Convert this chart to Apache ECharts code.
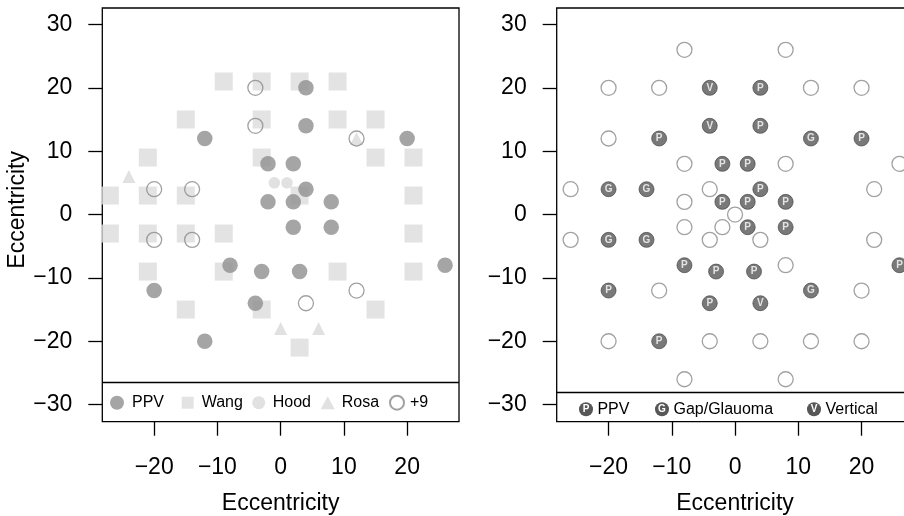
<!DOCTYPE html>
<html>
<head>
<meta charset="utf-8">
<script src="https://cdn.jsdelivr.net/npm/echarts@6/dist/echarts.min.js"></script>
<style>
  html, body { margin: 0; padding: 0; background: #fff; }
  #chart { width: 904px; height: 516px; }
</style>
</head>
<body>
<div id="chart"></div>
<script>
// left panel groups, [x, y] in degrees
var ppvPoints = [[4, 20], [4, 14], [-12, 12], [20, 12], [-2, 8], [2, 8], [4, 4], [-2, 2], [2, 2], [8, 2],
  [2, -2], [8, -2], [26, -8], [-8, -8], [-3, -9], [3, -9], [-20, -12], [-4, -14], [-12, -20]];
var wangPoints = [[-9, 21], [-3, 21], [3, 21], [9, 21], [-15, 15], [-3, 15], [9, 15], [15, 15],
  [-21, 9], [-3, 9], [15, 9], [21, 9], [-27, 3], [-21, 3], [-15, 3], [3, 3], [21, 3],
  [-27, -3], [-21, -3], [-15, -3], [-9, -3], [21, -3], [-21, -9], [-9, -9], [9, -9], [21, -9],
  [-15, -15], [-3, -15], [15, -15], [3, -21]];
var hoodPoints = [[-1, 5], [1, 5]];
var rosaPoints = [[-24, 6], [12, 12], [0, -18], [6, -18]];
var plus9Points = [[-4, 20], [-4, 14], [12, 12], [-20, 4], [-14, 4], [-20, -4], [-14, -4], [4, -14], [12, -12]];

// right panel groups (PPV points are the same as on the left)
var openPoints = [[-8, 26], [8, 26], [-20, 20], [-12, 20], [12, 20], [20, 20], [-20, 12], [-8, 8], [8, 8], [26, 8],
  [-26, 4], [-4, 4], [22, 4], [-8, 2], [0, 0], [-2, -2], [-8, -2], [-26, -4], [-4, -4], [4, -4], [22, -4],
  [8, -8], [-12, -12], [20, -12], [-20, -20], [-4, -20], [4, -20], [12, -20], [20, -20], [-8, -26], [8, -26]];
var gapPoints = [[12, 12], [-20, 4], [-14, 4], [-20, -4], [-14, -4], [12, -12]];
var verticalPoints = [[-4, 20], [-4, 14], [4, -14]];

var xTicks = [-20, -10, 0, 10, 20];
var yTicks = [-30, -20, -10, 0, 10, 20, 30];

var FONT = '"Liberation Sans", Arial, Helvetica, sans-serif';
var minus = function (v) { return String(v).replace('-', '\u2212'); };

function xAxis (idx) {
  return {
    type: 'value', gridIndex: idx, min: -28.2, max: 28.2,
    splitLine: { show: false }, axisLine: { show: false, onZero: false },
    axisTick: { show: true, length: 14, customValues: xTicks, lineStyle: { color: '#000', width: 1.3 } },
    axisLabel: { customValues: xTicks, margin: 34, fontSize: 23, color: '#000', fontFamily: FONT, formatter: minus },
    name: 'Eccentricity', nameLocation: 'middle', nameGap: 70,
    nameTextStyle: { fontSize: 23, color: '#000', fontFamily: FONT }
  };
}

function yAxis (idx, withName) {
  var ax = {
    type: 'value', gridIndex: idx, min: -32.7, max: 32.6,
    splitLine: { show: false }, axisLine: { show: false, onZero: false },
    axisTick: { show: true, length: 14, customValues: yTicks, lineStyle: { color: '#000', width: 1.3 } },
    axisLabel: { customValues: yTicks, margin: 30, fontSize: 23, color: '#000', fontFamily: FONT, formatter: minus }
  };
  if (withName) {
    ax.name = 'Eccentricity';
    ax.nameLocation = 'middle';
    ax.nameGap = 61;
    ax.nameTextStyle = { fontSize: 23, color: '#000', fontFamily: FONT, padding: [0, 0, 0, 10] };
  }
  return ax;
}

function legendLine (idx, yVal) {
  return {
    silent: true, symbol: 'none', animation: false,
    label: { show: false },
    lineStyle: { color: '#000', width: 1.3, type: 'solid' },
    data: [{ yAxis: yVal }]
  };
}

var letterLabel = function (ch) {
  return { show: true, position: 'inside', formatter: ch, color: '#fff', fontSize: 10, fontWeight: 'bold', fontFamily: FONT };
};
var darkStyle = { color: '#575757', borderColor: '#3c3c3c', borderWidth: 0.8 };
var openStyle = { color: 'rgba(255,255,255,0)', borderColor: '#8a8a8a', borderWidth: 1.3 };

// one legend per item so each sits where the original puts it
var leftLegend = [
  { name: 'PPV', left: 110, w: 14, h: 14, pad: 3 },
  { name: 'Wang', left: 181.7, w: 12, h: 12, pad: 3 },
  { name: 'Hood', left: 252.2, w: 13, h: 13, pad: 2.5 },
  { name: 'Rosa', left: 320.7, w: 14, h: 13, pad: 2 },
  { name: '+9', left: 389, w: 14, h: 14, pad: 1 }
];
var rightLegend = [
  { name: 'rPPV', left: 579, label: '{c|P} PPV' },
  { name: 'rGap', left: 655, label: '{c|G} Gap/Glauoma' },
  { name: 'rVert', left: 807, label: '{c|V} Vertical' }
];

var legends = [];
leftLegend.forEach(function (l) {
  legends.push({
    data: [l.name], left: l.left, top: 394.7, padding: 0, itemWidth: l.w, itemHeight: l.h,
    selectedMode: false,
    textStyle: { fontSize: 16, color: '#000', fontFamily: FONT, padding: [0, 0, 0, l.pad] }
  });
});
rightLegend.forEach(function (l) {
  legends.push({
    data: [l.name], left: l.left, top: 401.3, padding: 0, icon: 'none', itemWidth: 0, itemHeight: 14,
    selectedMode: false,
    formatter: function () { return l.label; },
    textStyle: {
      fontSize: 16, color: '#000', fontFamily: FONT, padding: [0, 0, 0, -5],
      rich: {
        c: { width: 14, height: 14, lineHeight: 14, borderRadius: 7, backgroundColor: '#575757', color: '#fff',
          fontSize: 10, fontWeight: 'bold', align: 'center', fontFamily: FONT }
      }
    }
  });
});

var gridBase = { top: 8, width: 356.7, height: 413.7, show: true, borderColor: '#000', borderWidth: 1.3,
  backgroundColor: 'transparent', containLabel: false, outerBoundsMode: 'none' };

var option = {
  animation: false,
  backgroundColor: '#fff',
  grid: [
    Object.assign({ left: 102.3 }, gridBase),
    Object.assign({ left: 556.7 }, gridBase)
  ],
  xAxis: [xAxis(0), xAxis(1)],
  yAxis: [yAxis(0, true), yAxis(1, false)],
  legend: legends,
  series: [
    { name: 'Wang', type: 'scatter', xAxisIndex: 0, yAxisIndex: 0, symbol: 'rect', symbolSize: 18,
      itemStyle: { color: '#dcdcdc' }, data: wangPoints, markLine: legendLine(0, -26.5) },
    { name: 'PPV', type: 'scatter', xAxisIndex: 0, yAxisIndex: 0, symbol: 'circle', symbolSize: 15.5,
      itemStyle: { color: '#8e8e8e' }, data: ppvPoints },
    { name: 'Hood', type: 'scatter', xAxisIndex: 0, yAxisIndex: 0, symbol: 'circle', symbolSize: 11.5,
      itemStyle: { color: '#dadada' }, data: hoodPoints },
    { name: 'Rosa', type: 'scatter', xAxisIndex: 0, yAxisIndex: 0, symbol: 'triangle', symbolSize: 13,
      itemStyle: { color: '#dadada' }, data: rosaPoints },
    { name: '+9', type: 'scatter', xAxisIndex: 0, yAxisIndex: 0, symbol: 'circle', symbolSize: 15,
      itemStyle: openStyle, data: plus9Points },

    { name: 'open', type: 'scatter', xAxisIndex: 1, yAxisIndex: 1, symbol: 'circle', symbolSize: 15,
      itemStyle: openStyle, data: openPoints, markLine: legendLine(1, -28) },
    { name: 'rPPV', type: 'scatter', xAxisIndex: 1, yAxisIndex: 1, symbol: 'circle', symbolSize: 15,
      itemStyle: darkStyle, label: letterLabel('P'), data: ppvPoints },
    { name: 'rGap', type: 'scatter', xAxisIndex: 1, yAxisIndex: 1, symbol: 'circle', symbolSize: 15,
      itemStyle: darkStyle, label: letterLabel('G'), data: gapPoints },
    { name: 'rVert', type: 'scatter', xAxisIndex: 1, yAxisIndex: 1, symbol: 'circle', symbolSize: 15,
      itemStyle: darkStyle, label: letterLabel('V'), data: verticalPoints }
  ]
};

var chart = echarts.init(document.getElementById('chart'));
chart.setOption(option);
</script>
</body>
</html>
